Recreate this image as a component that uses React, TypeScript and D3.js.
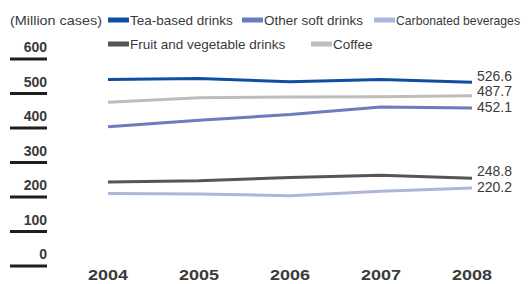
import * as d3 from "d3";

const YEARS = ["2004", "2005", "2006", "2007", "2008"];
const Y_TICKS = [0, 100, 200, 300, 400, 500, 600];
const UNIT = "(Million cases)";

const SERIES_NAMES = ["Tea-based drinks", "Other soft drinks", "Carbonated beverages", "Fruit and vegetable drinks", "Coffee"];
const TEA = [535, 538, 528, 535, 526.6];
const OTHER_SOFT = [398, 417, 433, 455, 452.1];
const CARBONATED = [204, 203, 198, 211, 220.2];
const FRUIT_VEG = [238, 241, 251, 257, 248.8];
const COFFEE = [469, 482, 484, 485, 487.7];

const W = 531, H = 284;
const FONT = "'Liberation Sans', Arial, sans-serif";
const TXT = "#3a3a3a";
const COLORS = ["#0e4ea3", "#6b7cc0", "#aeb6dd", "#555555", "#bdbdbd"];
// legend slots (layout only): swatch left edge, row centre, font size
const LEGEND_SLOTS = [[108, 20, 13.5], [242, 20, 13.5], [374, 20, 12.2], [108, 44, 13.5], [311, 44, 13.5]];

// spread end labels so they don't collide
function spreadLabels(ys: number[], gap: number) {
  const items = ys.map((v, i) => ({ i, y: v })).sort((a, b) => a.y - b.y);
  for (let iter = 0; iter < 20; iter++) {
    let moved = false;
    let start = 0;
    while (start < items.length) {
      let end = start;
      while (end + 1 < items.length && items[end + 1].y - items[end].y < gap - 0.01) end++;
      if (end > start) {
        const mean = d3.mean(items.slice(start, end + 1), (d) => d.y)!;
        const n = end - start + 1;
        for (let k = 0; k < n; k++) items[start + k].y = mean + (k - (n - 1) / 2) * gap;
        moved = true;
      }
      start = end + 1;
    }
    if (!moved) break;
  }
  const out: number[] = [];
  items.forEach((d) => (out[d.i] = d.y));
  return out;
}

export default function App() {
  const series = [TEA, OTHER_SOFT, CARBONATED, FRUIT_VEG, COFFEE];
  const x = d3.scalePoint<string>().domain(YEARS).range([108, 472]);
  const y = d3.scaleLinear().domain([0, 600]).range([264, 57]);
  const line = d3.line<number>().x((_, i) => x(YEARS[i])!).y((d) => y(d));

  const last = series.map((s) => s[s.length - 1]);
  const labelY = spreadLabels(last.map((v) => y(v) - 4), 15.5);

  // draw order: pale ones first, tea on top
  const drawOrder = [2, 3, 4, 1, 0];

  return (
    <div style={{ position: "absolute", left: 0, top: 0 }}>
      <svg width={W} height={H} style={{ display: "block", background: "#fff" }}>
        {/* Unit */}
        <text x={10} y={25} fontSize={13} fontFamily={FONT} fill={TXT} textLength={92} lengthAdjust="spacingAndGlyphs">
          {UNIT}
        </text>

        {/* Legend */}
        {SERIES_NAMES.map((name, i) => {
          const [lx, ly, fs] = LEGEND_SLOTS[i];
          return (
            <g key={name}>
              <rect x={lx} y={ly - 2.5} width={21} height={5} fill={COLORS[i]} />
              <text x={lx + 22} y={ly + 4.5} fontSize={fs} fontFamily={FONT} fill={TXT}>
                {name}
              </text>
            </g>
          );
        })}

        {/* Y axis ticks */}
        {Y_TICKS.map((t) => (
          <g key={t}>
            <line x1={10} x2={47} y1={y(t) + 2} y2={y(t) + 2} stroke="#1e1e1e" strokeWidth={3} />
            <text x={47} y={y(t) - 5} textAnchor="end" fontSize={14} fontWeight="bold" fontFamily={FONT} fill={TXT}>
              {t}
            </text>
          </g>
        ))}

        {/* Lines */}
        {drawOrder.map((i) => (
          <path key={i} d={line(series[i])!} fill="none" stroke={COLORS[i]} strokeWidth={3} />
        ))}

        {/* End labels */}
        {series.map((s, i) => (
          <text key={i} x={477} y={labelY[i] + 5} fontSize={14} fontFamily={FONT} fill={TXT}>
            {last[i].toFixed(1)}
          </text>
        ))}

        {/* X labels */}
        {YEARS.map((yr) => (
          <text key={yr} x={x(yr)} y={280} textAnchor="middle" fontSize={14} fontWeight="bold" fontFamily={FONT}
            fill={TXT} textLength={40} lengthAdjust="spacingAndGlyphs">
            {yr}
          </text>
        ))}
      </svg>
    </div>
  );
}
